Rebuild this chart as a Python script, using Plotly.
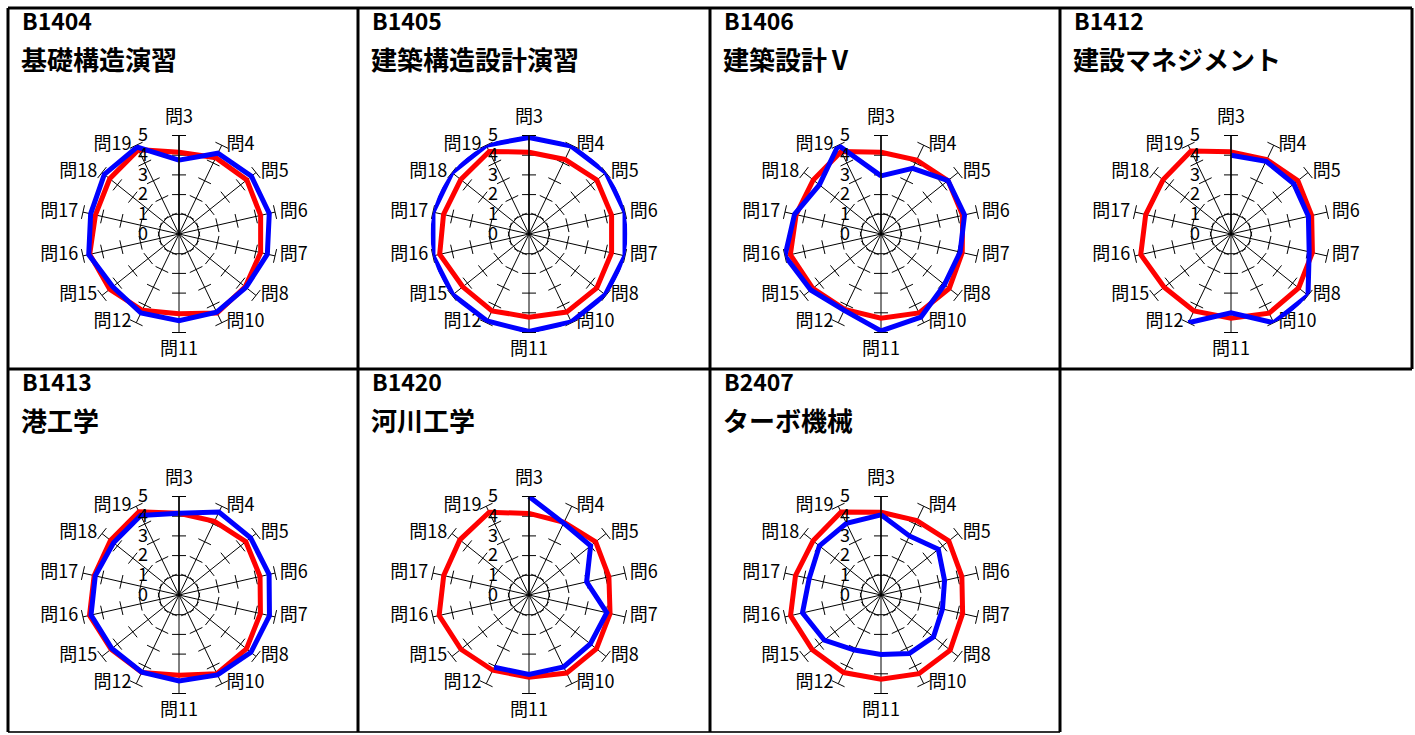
import plotly.graph_objects as go

# -----------------------------
# Data
# -----------------------------
questions = ["問3", "問4", "問5", "問6", "問7", "問8", "問10",
             "問11", "問12", "問15", "問16", "問17", "問18", "問19"]

codes = ["B1404", "B1405", "B1406", "B1412", "B1413", "B1420", "B2407"]
names = ["基礎構造演習", "建築構造設計演習", "建築設計Ⅴ", "建設マネジメント",
         "港工学", "河川工学", "ターボ機械"]

# red = average, blue = course
red_b1404 = [4.15, 4.3, 4.4, 4.25, 4.25, 4.3, 4.45, 4.05, 4.3, 4.5, 4.65, 4.35, 4.5, 4.75]
blue_b1404 = [3.75, 4.55, 4.7, 4.7, 4.6, 4.35, 4.4, 4.4, 4.45, 4.3, 4.7, 4.6, 4.85, 4.9]

red_b1405 = [4.15, 4.2, 4.4, 4.3, 4.3, 4.4, 4.4, 4.22, 4.33, 4.3, 4.65, 4.45, 4.43, 4.65]
blue_b1405 = [4.9, 4.95, 5.0, 5.0, 5.0, 4.95, 4.95, 4.95, 4.9, 4.95, 5.0, 5.0, 5.0, 5.0]

red_b1406 = [4.15, 4.17, 4.35, 4.25, 4.23, 4.43, 4.45, 4.27, 4.25, 4.43, 4.72, 4.42, 4.4, 4.65]
blue_b1406 = [2.95, 3.7, 4.35, 4.35, 4.12, 4.12, 4.68, 4.92, 4.3, 4.56, 5.0, 4.5, 4.0, 5.0]

red_b1412 = [4.17, 4.19, 4.34, 4.2, 4.24, 4.39, 4.46, 4.27, 4.34, 4.34, 4.7, 4.44, 4.41, 4.68]
blue_b1412 = [4.0, 4.1, 4.08, 4.03, 4.07, 5.0, 5.0, 4.0, 5.0, None, None, None, None, None]

red_b1413 = [4.15, 4.15, 4.34, 4.22, 4.24, 4.38, 4.43, 4.07, 4.36, 4.41, 4.66, 4.42, 4.45, 4.69]
blue_b1413 = [4.15, 4.67, 4.65, 4.69, 4.71, 4.67, 4.5, 4.36, 4.35, 4.36, 4.58, 4.36, 4.25, 4.48]

red_b1420 = [4.14, 4.1, 4.33, 4.16, 4.22, 4.38, 4.4, 4.17, 4.24, 4.42, 4.68, 4.44, 4.49, 4.66]
blue_b1420 = [5.0, 4.05, 4.0, 3.0, 4.05, 3.98, 4.05, 4.03, 4.07, None, None, None, None, None]

red_b2407 = [4.2, 4.19, 4.4, 4.21, 4.25, 4.49, 4.43, 4.27, 4.37, 4.46, 4.71, 4.45, 4.41, 4.67]
blue_b2407 = [4.07, 3.33, 3.72, 3.31, 3.2, 3.41, 3.3, 3.02, 3.1, 3.68, 4.09, 3.74, 4.0, 4.04]

reds = [red_b1404, red_b1405, red_b1406, red_b1412, red_b1413, red_b1420, red_b2407]
blues = [blue_b1404, blue_b1405, blue_b1406, blue_b1412, blue_b1413, blue_b1420, blue_b2407]

scale_ticks = [0, 1, 2, 3, 4, 5]

# -----------------------------
# Layout geometry (pixels)
# -----------------------------
W, H = 1415, 735
col_x = [8, 358, 710, 1060, 1412]
row_y = [8, 369, 732]
R = 98.5
FONT = "Noto Sans CJK JP"

fig = go.Figure()
annotations = []
n_q = len(questions)

# category labels sit just outside the end of each spoke
label_pos = (["top center"] + ["middle right"] * 6 + ["bottom center"]
             + ["middle left"] * 6)
label_pad = [12 if p.endswith("center") else 6 for p in label_pos]

for i in range(len(codes)):
    row, col = divmod(i, 4)
    cx = col_x[col] + 171
    cy = row_y[row] + 226
    pid = "polar" if i == 0 else f"polar{i + 1}"

    # small cross ticks on every spoke
    tick_theta = [q for q in questions for v in scale_ticks[1:]]
    tick_r = [v for q in questions for v in scale_ticks[1:]]
    tick_ang = [k * 360 / n_q for k in range(n_q) for v in scale_ticks[1:]]
    fig.add_trace(go.Scatterpolar(
        r=tick_r, theta=tick_theta, mode="markers", subplot=pid,
        marker=dict(symbol="line-ew", size=10, angle=tick_ang,
                    line=dict(color="black", width=1)),
        hoverinfo="skip", showlegend=False,
    ))

    fig.add_trace(go.Scatterpolar(
        r=[scale_ticks[-1]] * n_q, theta=questions, text=questions,
        mode="markers+text", textposition=label_pos, subplot=pid,
        marker=dict(size=label_pad, opacity=0),
        textfont=dict(family=FONT, size=18, color="black"),
        cliponaxis=False, hoverinfo="skip", showlegend=False,
    ))

    for vals, color in [(reds[i], "#FF0000"), (blues[i], "#0000FF")]:
        fig.add_trace(go.Scatterpolar(
            r=vals + vals[:1], theta=questions + questions[:1],
            mode="lines", subplot=pid, connectgaps=False,
            line=dict(color=color, width=5),
            showlegend=False,
        ))

    fig.update_layout(**{pid: dict(
        domain=dict(x=[(cx - R) / W, (cx + R) / W],
                    y=[1 - (cy + R) / H, 1 - (cy - R) / H]),
        bgcolor="white",
        angularaxis=dict(
            type="category", categoryarray=questions,
            direction="clockwise", rotation=90,
            showline=False, showgrid=True, gridcolor="black", gridwidth=1,
            ticks="", showticklabels=False,
        ),
        radialaxis=dict(
            range=[0, 5], tickvals=scale_ticks, angle=90, side="counterclockwise",
            showline=True, linecolor="black", linewidth=1.5, showgrid=False,
            ticks="outside", ticklen=24, tickcolor="rgba(0,0,0,0)",
            tickfont=dict(family=FONT, size=18, color="black"), tickangle=90,
        ),
    )})

    annotations.append(dict(
        text=codes[i], x=(col_x[col] + 12) / W, y=1 - (row_y[row] + 12) / H,
        xref="paper", yref="paper", xanchor="left", yanchor="middle", showarrow=False,
        font=dict(family=FONT, size=23, color="black", weight="bold"),
    ))
    annotations.append(dict(
        text=names[i], x=(col_x[col] + 11) / W, y=1 - (row_y[row] + 50) / H,
        xref="paper", yref="paper", xanchor="left", yanchor="middle", showarrow=False,
        font=dict(family=FONT, size=26, color="black", weight="bold"),
    ))

# cell borders
shapes = []
def line(x0, y0, x1, y1, w=3, c="black"):
    shapes.append(dict(type="line", xref="paper", yref="paper",
                       x0=x0 / W, x1=x1 / W, y0=1 - y0 / H, y1=1 - y1 / H,
                       line=dict(color=c, width=w)))

line(col_x[0], row_y[0], col_x[4], row_y[0])
line(col_x[0], row_y[1], col_x[4], row_y[1])
line(col_x[0], row_y[2], col_x[3], row_y[2], w=2, c="#333333")
for x in col_x[:4]:
    line(x, row_y[0], x, row_y[2])
line(col_x[4], row_y[0], col_x[4], row_y[1])

fig.update_layout(
    width=W, height=H, margin=dict(l=0, r=0, t=0, b=0),
    paper_bgcolor="white", showlegend=False,
    annotations=annotations, shapes=shapes,
)

fig.write_html("out.html", config={"displayModeBar": False},
               post_script="document.body.style.margin='0';")
